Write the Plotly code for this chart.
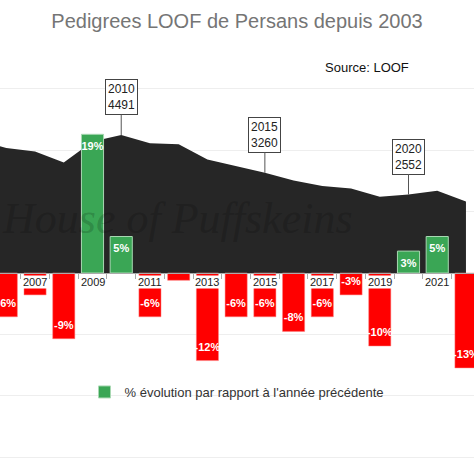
import plotly.graph_objects as go

# Pedigrees LOOF - Persans
years = [2005, 2006, 2007, 2008, 2009, 2010, 2011, 2012, 2013,
         2014, 2015, 2016, 2017, 2018, 2019, 2020, 2021, 2022]
pedigrees = [4330, 4070, 3950, 3600, 4280, 4491, 4220, 4190, 3690,
             3470, 3260, 3010, 2830, 2750, 2480, 2552, 2680, 2330]

pct_years = [2006, 2007, 2008, 2009, 2010, 2011, 2012, 2013, 2014,
             2015, 2016, 2017, 2018, 2019, 2020, 2021, 2022]
pct_change = [-6, -3, -9, 19, 5, -6, -1, -12, -6,
              -6, -8, -6, -3, -10, 3, 5, -13]

highlight_years = [2010, 2015, 2020]
label_years = [2007, 2009, 2011, 2013, 2015, 2017, 2019, 2021]

GREEN = '#3aa655'
RED = '#ff0000'

# layout geometry (pixels in a 474x474 page)
top, bottom, zero_px = 60, 474, 273
px_per_count = 138 / 4491
px_per_pct = 7.3
y_count_range = [-(bottom - zero_px) / px_per_count, (zero_px - top) / px_per_count]
y_pct_range = [-(bottom - zero_px) / px_per_pct, (zero_px - top) / px_per_pct]

fig = go.Figure()

fig.add_trace(go.Scatter(x=years, y=pedigrees, mode='lines', fill='tozeroy',
                         line=dict(width=0, color='#262626'), fillcolor='#262626',
                         showlegend=False, yaxis='y'))

pos = [(y, v) for y, v in zip(pct_years, pct_change) if v > 0]
neg = [(y, v) for y, v in zip(pct_years, pct_change) if v < 0]

fig.add_trace(go.Bar(x=[p[0] for p in pos], y=[p[1] for p in pos], width=0.77,
                     marker=dict(color=GREEN, line=dict(color='#a8d8b2', width=1)),
                     name="% évolution par rapport à l'année précédente", yaxis='y2'))
fig.add_trace(go.Bar(x=[p[0] for p in neg], y=[p[1] for p in neg], width=0.77,
                     marker=dict(color=RED, line=dict(color='#ff8080', width=0.5)),
                     showlegend=False, yaxis='y2'))

# data labels inside the bars (short bars under a year label keep no label)
lbl = [(y, v) for y, v in zip(pct_years, pct_change)
       if abs(v) >= 2 and not (abs(v) < 4 and y in label_years)]
fig.add_trace(go.Scatter(x=[p[0] for p in lbl], y=[p[1] for p in lbl],
                         mode='markers+text', marker=dict(size=10, opacity=0),
                         text=[f"{p[1]}%" for p in lbl],
                         textposition=['bottom center' if p[1] > 0 else 'top center' for p in lbl],
                         textfont=dict(color='white', size=11, family='Liberation Sans', weight='bold'),
                         showlegend=False, hoverinfo='skip', yaxis='y2'))

annotations = []
for yr in label_years:
    annotations.append(dict(x=yr, y=0, yref='y2', text=str(yr), showarrow=False,
                            yanchor='middle', yshift=-9, bgcolor='white', borderpad=0,
                            font=dict(size=11, color='#222', family='Liberation Sans')))
for yr in highlight_years:
    v = pedigrees[years.index(yr)]
    annotations.append(dict(x=yr, y=v, yref='y', text=f"{yr}<br>{v}", showarrow=True,
                            arrowhead=0, arrowwidth=1, arrowcolor='#555', ax=0, ay=-38,
                            bgcolor='white', bordercolor='#444', borderwidth=1, borderpad=2,
                            font=dict(size=12, color='#222', family='Liberation Sans')))
annotations.append(dict(x=0.775, y=(bottom - 68) / (bottom - top), xref='paper', yref='paper',
                        xanchor='center', yanchor='middle', text='Source: LOOF',
                        showarrow=False, font=dict(size=13, color='#111', family='Liberation Sans')))
# watermark
annotations.append(dict(x=0.0, y=(bottom - 218) / (bottom - top), xref='paper', yref='paper',
                        xanchor='left', yanchor='middle', text='House of Puffskeins',
                        showarrow=False,
                        font=dict(size=44, color='rgba(0,0,0,0.18)', family='Liberation Serif',
                                  style='italic')))

fig.update_layout(
    width=474, height=474,
    margin=dict(l=0, r=0, t=top, b=0),
    paper_bgcolor='white', plot_bgcolor='white',
    barmode='overlay',
    title=dict(text='Pedigrees LOOF de Persans depuis 2003', x=0.5, xanchor='center',
               y=1 - 21 / 474, yanchor='middle',
               font=dict(size=20, color='#757575', family='Liberation Sans')),
    xaxis=dict(range=[2005.78, 2022.28], anchor='free',
               position=(bottom - zero_px) / (bottom - top),
               showgrid=False, zeroline=False, showline=True, linecolor='#aaa',
               tickvals=[2005.5] + [y + 0.5 for y in pct_years[:-1]],
               ticks='outside', ticklen=5, tickcolor='#aaa', showticklabels=False),
    yaxis=dict(range=y_count_range, dtick=2000, showgrid=True, gridcolor='#eeeeee',
               zeroline=False, showticklabels=False),
    yaxis2=dict(range=y_pct_range, overlaying='y', showgrid=False, zeroline=False,
                showticklabels=False),
    legend=dict(orientation='h', x=0.5, xanchor='center', y=(bottom - 392) / (bottom - top),
                yanchor='middle', font=dict(size=13, color='#333', family='Liberation Sans'),
                bgcolor='rgba(0,0,0,0)'),
    annotations=annotations,
)

fig.write_html("out.html", config={'displayModeBar': False},
               post_script="document.body.style.margin='0px';")
